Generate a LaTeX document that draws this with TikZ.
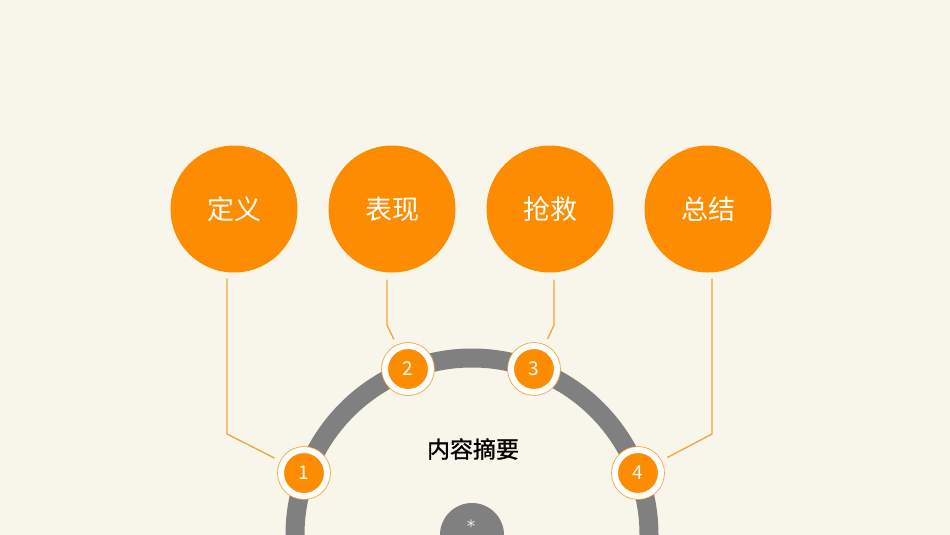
\documentclass[tikz,border=0pt]{standalone}
\usepackage{fontspec}
\setmainfont{Noto Sans CJK SC}
\newfontfamily\topicfont[FakeBold=1.2]{Noto Sans CJK SC}
\newfontfamily\starfont{DejaVu Sans}
\usepackage{tikz}
\definecolor{bgcream}{HTML}{F8F6EA}
\definecolor{dotorange}{HTML}{FD8C00}
\definecolor{linkorange}{HTML}{F3A43C}
\definecolor{ringgray}{HTML}{808080}

\begin{document}
\begin{tikzpicture}[x=1pt, y=-1pt,
    bigdot/.style={circle, fill=dotorange, minimum size=127pt, inner sep=0pt,
        text=white, font=\fontsize{27}{32}\selectfont},
    numdot/.style={circle, fill=dotorange, draw=white, line width=6pt,
        minimum size=46pt, inner sep=0pt, text=white, font=\fontsize{19}{22}\selectfont,
        preaction={draw=linkorange, line width=7.6pt}},
    link/.style={draw=linkorange, line width=1.3pt, shorten >=7pt}]
    \fill[bgcream] (0,0) rectangle (950,535);
    \useasboundingbox (0,0) rectangle (950,535);

    \begin{scope}
        \clip (0,0) rectangle (950,535);
        \draw[ringgray, line width=19pt] (472,535) circle (177pt);
        \fill[ringgray] (472,535) circle (32pt);
    \end{scope}
    \node[text=white!85!ringgray, font=\starfont\fontsize{17}{20}\selectfont] (star) at (471,526) {*};

    \node at (473,449) (topic) {\topicfont\fontsize{23}{27}\selectfont 内容摘要};

    \node[bigdot] (dingyi) at (234,209) {定义};
    \node[bigdot] (biaoxian) at (392,209) {表现};
    \node[bigdot] (qiangjiu) at (550,209) {抢救};
    \node[bigdot] (zongjie) at (708,209) {总结};

    \node[numdot] (n1) at (304,473) {1};
    \node[numdot] (n2) at (408,369) {2};
    \node[numdot] (n3) at (534,369) {3};
    \node[numdot] (n4) at (638,473) {4};

    \coordinate (b1) at (227,434);
    \coordinate (b2) at (387,325);
    \coordinate (b3) at (554,325);
    \coordinate (b4) at (712,434);

    \draw[link] ([xshift=-7pt,yshift=-6pt]dingyi.south) -- (b1) -- (n1);
    \draw[link] ([xshift=-5pt,yshift=-7pt]biaoxian.south) -- (b2) -- (n2);
    \draw[link] ([xshift=4pt,yshift=-7pt]qiangjiu.south) -- (b3) -- (n3);
    \draw[link] ([xshift=4pt,yshift=-6pt]zongjie.south) -- (b4) -- (n4);
\end{tikzpicture}
\end{document}
